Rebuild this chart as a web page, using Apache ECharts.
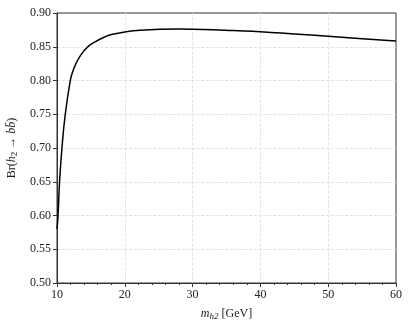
<!DOCTYPE html>
<html>
<head>
<meta charset="utf-8">
<script src="https://cdn.jsdelivr.net/npm/echarts@6/dist/echarts.min.js"></script>
<style>
  html, body { margin: 0; padding: 0; background: #fff; }
  #chart { width: 411px; height: 328px; }
</style>
</head>
<body>
<div id="chart"></div>
<script>
// values
var massValues = [10.0, 10.15, 10.38, 10.73, 11.22, 11.96, 12.3, 12.75, 13.6, 14.6, 15.55, 17.0, 18.0, 20.0, 22.3, 25.3, 28.0, 30.0, 33.0, 36.0, 40.0, 45.0, 50.0, 55.0, 60.0];
var brValues = [0.58, 0.60, 0.65, 0.70, 0.75, 0.80, 0.8125, 0.824, 0.839, 0.8505, 0.857, 0.8644, 0.868, 0.872, 0.8743, 0.8758, 0.8762, 0.876, 0.8752, 0.874, 0.8724, 0.869, 0.8655, 0.862, 0.8585];
var xTicks = [10, 20, 30, 40, 50, 60];
var yTicks = [0.50, 0.55, 0.60, 0.65, 0.70, 0.75, 0.80, 0.85, 0.90];

var serif = '"Liberation Serif", "DejaVu Serif", serif';
var gridLine = { show: true, showMinLine: false, showMaxLine: false, lineStyle: { color: '#ddd', type: 'dashed', width: 0.8 } };

var chart = echarts.init(document.getElementById('chart'));
chart.setOption({
    animation: false,
    backgroundColor: '#fff',
    grid: {
        left: 57,
        right: 15,
        top: 13,
        bottom: 45,
        outerBoundsMode: 'none',
        containLabel: false,
        show: true,
        borderColor: '#333',
        borderWidth: 1
    },
    xAxis: {
        type: 'value',
        min: xTicks[0],
        max: xTicks[xTicks.length - 1],
        interval: 10,
        name: '{i|m}{s|h2} [GeV]',
        nameLocation: 'middle',
        nameGap: 24,
        nameTextStyle: {
            color: '#222',
            fontFamily: serif,
            fontSize: 12,
            rich: {
                i: { fontStyle: 'italic', fontFamily: serif, fontSize: 12, color: '#222' },
                s: { fontStyle: 'italic', fontFamily: serif, fontSize: 9, color: '#222', padding: [5, 0, 0, 0] }
            }
        },
        axisLine: { lineStyle: { color: '#333', width: 1 } },
        axisTick: { inside: false, length: 4, lineStyle: { color: '#333' } },
        minorTick: { show: true, splitNumber: 5, length: 2, lineStyle: { color: '#333' } },
        axisLabel: { color: '#222', fontFamily: serif, fontSize: 12, margin: 6 },
        splitLine: gridLine
    },
    yAxis: {
        type: 'value',
        min: yTicks[0],
        max: yTicks[yTicks.length - 1],
        interval: 0.05,
        name: '{r|Br(}{i|h}{s|2}{r| → }{i|b}{i|b̄}{r|)}',
        nameLocation: 'middle',
        nameGap: 36,
        nameTextStyle: {
            color: '#222',
            fontFamily: serif,
            fontSize: 12,
            rich: {
                r: { fontFamily: serif, fontSize: 12, color: '#222' },
                i: { fontStyle: 'italic', fontFamily: serif, fontSize: 12, color: '#222' },
                s: { fontFamily: serif, fontSize: 9, color: '#222', padding: [5, 0, 0, 0] }
            }
        },
        axisLine: { show: true, lineStyle: { color: '#333', width: 1 } },
        axisTick: { show: true, inside: false, length: 4, lineStyle: { color: '#333' } },
        axisLabel: {
            color: '#222',
            fontFamily: serif,
            fontSize: 12,
            margin: 6,
            formatter: function (v) { return v.toFixed(2); }
        },
        splitLine: gridLine
    },
    series: [{
        type: 'line',
        data: massValues.map(function (m, i) { return [m, brValues[i]]; }),
        showSymbol: false,
        smooth: 0.5,
        lineStyle: { color: '#000', width: 1.5 }
    }]
});
</script>
</body>
</html>
